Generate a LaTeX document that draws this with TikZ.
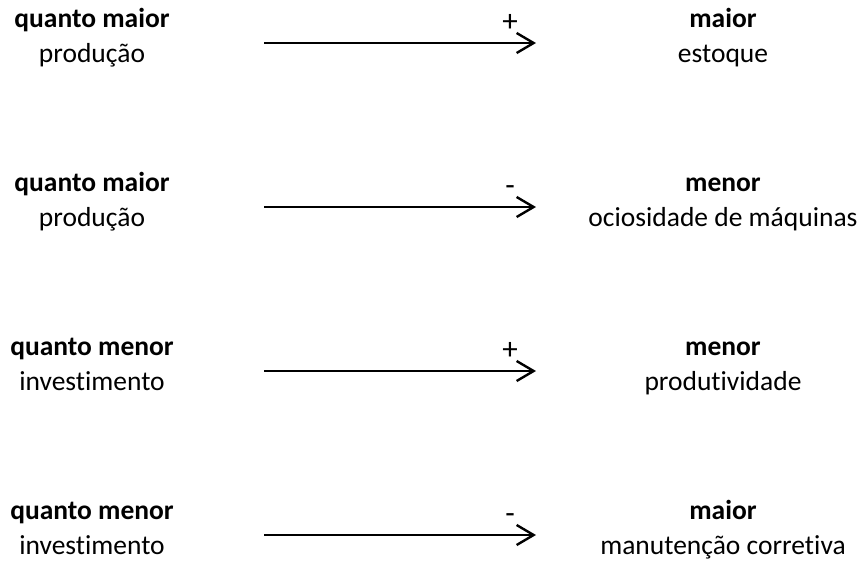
\documentclass[tikz,border=0pt]{standalone}
\usepackage{fontspec}
\setmainfont[Ligatures=NoCommon]{Carlito}
\usetikzlibrary{arrows.meta}
\begin{document}
\begin{tikzpicture}[x=1pt,y=-1pt,
  lbl/.style={align=center,anchor=north,inner sep=0pt,
    font=\fontsize{27.5}{35}\selectfont},
  sgn/.style={anchor=base,inner sep=0pt,font=\fontsize{31}{35}\selectfont},
  link/.style={line width=2.4pt,-{Straight Barb[length=17pt,width=20pt,line width=2.4pt]}}]
  \useasboundingbox[fill=white] (0,0) rectangle (863,563);
  % each label: first baseline = top + 24.5 (strut height)
  % row 1
  \node[lbl] (a1) at (92,3) {\textbf{quanto maior}\strut\\produção\strut};
  \node[lbl] (b1) at (723,3) {\textbf{maior}\strut\\estoque\strut};
  \coordinate (s1) at (264,43); \coordinate (e1) at (536,43);
  \draw[link] (s1) -- (e1);
  \node[sgn] (p1) at (510,31) {+};
  % row 2
  \node[lbl] (a2) at (92,167) {\textbf{quanto maior}\strut\\produção\strut};
  \node[lbl] (b2) at (723,167) {\textbf{menor}\strut\\ociosidade de máquinas\strut};
  \coordinate (s2) at (264,207); \coordinate (e2) at (536,207);
  \draw[link] (s2) -- (e2);
  \node[sgn] (p2) at (510,195) {-};
  % row 3
  \node[lbl] (a3) at (92,331) {\textbf{quanto menor}\strut\\investimento\strut};
  \node[lbl] (b3) at (723,331) {\textbf{menor}\strut\\produtividade\strut};
  \coordinate (s3) at (264,371); \coordinate (e3) at (536,371);
  \draw[link] (s3) -- (e3);
  \node[sgn] (p3) at (510,359) {+};
  % row 4
  \node[lbl] (a4) at (92,494.5) {\textbf{quanto menor}\strut\\investimento\strut};
  \node[lbl] (b4) at (723,494.5) {\textbf{maior}\strut\\manutenção corretiva\strut};
  \coordinate (s4) at (264,535); \coordinate (e4) at (536,535);
  \draw[link] (s4) -- (e4);
  \node[sgn] (p4) at (510,523) {-};
\end{tikzpicture}
\end{document}
